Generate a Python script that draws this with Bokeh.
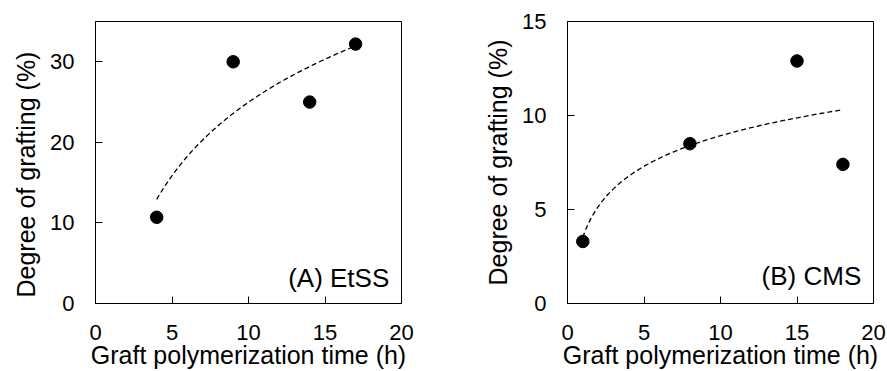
import numpy as np
from bokeh.plotting import figure
from bokeh.layouts import row
from bokeh.models import Range1d, FixedTicker, Label, Title
from bokeh.embed import file_html
from bokeh.resources import INLINE

# Panel A: EtSS
time_a = [4, 9, 14, 17]
dog_a = [10.7, 30.0, 25.0, 32.2]
# Panel B: CMS
time_b = [1, 8, 15, 18]
dog_b = [3.3, 8.5, 12.9, 7.4]

x_ticks = [0, 5, 10, 15, 20]
y_ticks_a = [0, 10, 20, 30]
y_ticks_b = [0, 5, 10, 15]

X_TITLE = "Graft polymerization time (h)"
Y_TITLE = "Degree of grafting (%)"

FONT = "Liberation Sans"


def log_fit(x, y):
    x = np.asarray(x, float)
    y = np.asarray(y, float)
    a, b = np.polyfit(np.log(x), y, 1)
    xs = np.linspace(x.min(), x.max(), 200)
    return xs, a * np.log(xs) + b


def make_panel(x, y, ymax, yticks, label, width, bl, br, label_y, ytitle_align, ytitle_offset):
    p = figure(width=width, height=371, output_backend="svg", toolbar_location=None,
               x_range=Range1d(0, 20), y_range=Range1d(0, ymax),
               min_border_left=bl, min_border_right=br, min_border_top=21, min_border_bottom=68,
               background_fill_color="white", border_fill_color="white")
    p.outline_line_color = "black"
    p.outline_line_width = 1
    p.xgrid.visible = False
    p.ygrid.visible = False
    p.xaxis.ticker = FixedTicker(ticks=x_ticks)
    p.yaxis.ticker = FixedTicker(ticks=yticks)
    for ax in (p.xaxis, p.yaxis):
        ax.major_tick_in = 7
        ax.major_tick_out = 0
        ax.minor_tick_in = 0
        ax.minor_tick_out = 0
        ax.axis_line_color = "black"
        ax.major_tick_line_color = "black"
        ax.major_label_text_font = FONT
        ax.major_label_text_font_size = "22px"
        ax.major_label_text_color = "black"
        ax.axis_label_text_font = FONT
        ax.axis_label_text_font_size = "25px"
        ax.axis_label_text_font_style = "normal"
        ax.axis_label_text_color = "black"
    p.xaxis.axis_label = X_TITLE
    p.xaxis.major_label_standoff = 21
    p.xaxis.axis_label_standoff = -2
    p.yaxis.major_label_standoff = 21

    # y-axis title as a side title so it can be shifted along the axis
    p.add_layout(Title(text=Y_TITLE, align=ytitle_align, offset=ytitle_offset,
                       standoff=16, text_font=FONT, text_font_size="25px",
                       text_font_style="normal", text_color="black"), "left")

    xs, ys = log_fit(x, y)
    p.line(xs, ys, line_color="black", line_width=1.3, line_dash="5 3")
    p.scatter(x, y, size=12.5, marker="circle", fill_color="black", line_color="black")

    p.add_layout(Label(x=19.2, y=label_y, text=label, text_align="right",
                       text_baseline="alphabetic", text_font=FONT,
                       text_font_size="26px", text_color="black"))
    return p


pa = make_panel(time_a, dog_a, 35, y_ticks_a, "(A) EtSS", 448, 95, 47, 3.19, "left", 6)
pb = make_panel(time_b, dog_b, 15, y_ticks_b, "(B) CMS", 439, 119, 14, 1.44, "center", 0)

layout = row(pa, pb)
open("out.html", "w").write(file_html(layout, INLINE))
